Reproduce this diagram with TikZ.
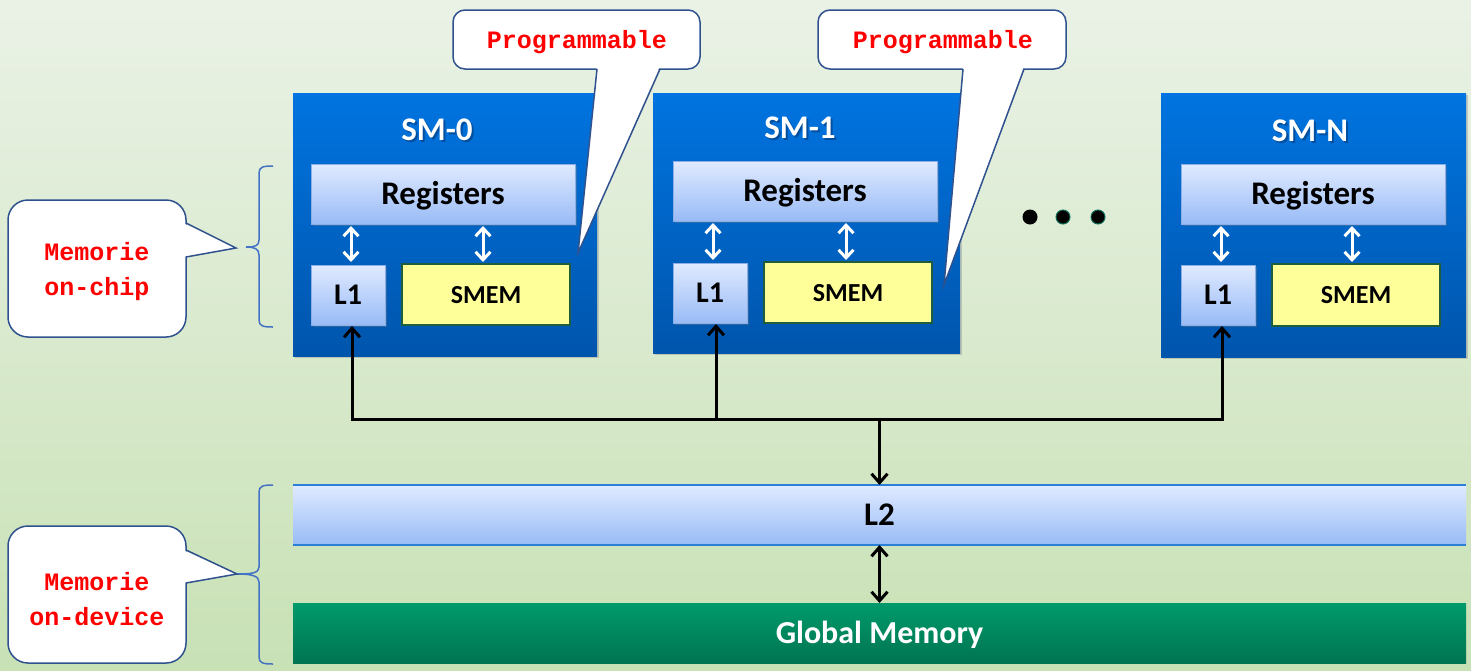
\documentclass[tikz,border=0pt]{standalone}
\usepackage{fontspec}
\setmainfont{Carlito}
\newfontfamily\calloutfont{Liberation Mono}
\usetikzlibrary{arrows.meta,shadows,calc}

\definecolor{bgtop}{HTML}{EAF2E6}
\definecolor{bgbot}{HTML}{C8E1B5}
\definecolor{smtop}{HTML}{0074E0}
\definecolor{smbot}{HTML}{0055AC}
\definecolor{smshade}{HTML}{003A7A}
\definecolor{regtop}{HTML}{E0EAFF}
\definecolor{regbot}{HTML}{98BBF6}
\definecolor{regline}{HTML}{8CAEE6}
\definecolor{smemfill}{HTML}{FFFF99}
\definecolor{smemline}{HTML}{1E5E3C}
\definecolor{gmtop}{HTML}{009A6B}
\definecolor{gmbot}{HTML}{007450}
\definecolor{callline}{HTML}{2F528F}
\definecolor{braceline}{HTML}{4472C4}
\definecolor{l2line}{HTML}{2A7FD6}
\definecolor{redtxt}{HTML}{FF0000}
\definecolor{dotline}{HTML}{0E6E5A}

\begin{document}
\begin{tikzpicture}[x=1pt,y=-1pt,
  smbox/.style={draw=none, top color=smtop, bottom color=smbot, inner sep=0pt, outer sep=0pt,
    drop shadow={shadow xshift=2pt,shadow yshift=-2pt,opacity=0.35}},
  smtitle/.style={text=white, font=\fontsize{33}{40}\selectfont\bfseries, inner sep=0pt},
  regbox/.style={draw=regline, line width=0.8pt, top color=regtop, bottom color=regbot, inner sep=0pt, outer sep=0pt,
    font=\fontsize{33}{40}\selectfont\bfseries, text height=21pt, text depth=0pt,
    drop shadow={shadow xshift=2pt,shadow yshift=-2pt,opacity=0.35}},
  l1box/.style={regbox, font=\fontsize{30}{36}\selectfont\bfseries, text height=19pt},
  smembox/.style={draw=smemline, line width=2.5pt, fill=smemfill, inner sep=0pt, outer sep=0pt,
    font=\fontsize{26}{32}\selectfont\bfseries, text height=17pt, text depth=0pt},
  l2box/.style={draw=none, top color=regtop, bottom color=regbot, inner sep=0pt, outer sep=0pt,
    font=\fontsize{33}{40}\selectfont\bfseries, text height=21pt, text depth=0pt},
  gmbox/.style={draw=none, top color=gmtop, bottom color=gmbot, inner sep=0pt, outer sep=0pt,
    text=white, font=\fontsize{32}{38}\selectfont\bfseries, text height=20.5pt, text depth=0pt},
  calloutbox/.style={draw=callline, line width=1.5pt, fill=white, rounded corners=20pt},
  callouttext/.style={text=redtxt, font=\calloutfont\bfseries\fontsize{25}{35}\selectfont, align=center, inner sep=0pt},
  bracepath/.style={draw=braceline, line width=1.5pt},
  blkarrow/.style={draw=black, line width=3pt, -{Straight Barb[length=9pt,width=16pt]}},
  blkdarrow/.style={draw=black, line width=3pt, {Straight Barb[length=9pt,width=16pt]}-{Straight Barb[length=9pt,width=16pt]}},
  blkline/.style={draw=black, line width=3pt},
  whtdarrow/.style={draw=white, line width=3pt, {Straight Barb[length=8pt,width=15pt]}-{Straight Barb[length=8pt,width=15pt]}}
]
% background
\useasboundingbox (0,0) rectangle (1471,670);
\shade[top color=bgtop, bottom color=bgbot] (0,0) rectangle (1471,670);

% SM boxes
\node[smbox, minimum width=304pt, minimum height=263pt] (sm0) at (445,224.5) {};
\node[smbox, minimum width=307pt, minimum height=260pt] (sm1) at (806.5,223) {};
\node[smbox, minimum width=305pt, minimum height=264pt] (smn) at (1313.5,225) {};

% titles (with a soft dark shadow)
\node[smtitle, text=smshade, opacity=0.6] (t0s) at (439,132) {SM-0};
\node[smtitle] (t0) at (437,130) {SM-0};
\node[smtitle, text=smshade, opacity=0.6] (t1s) at (802,130) {SM-1};
\node[smtitle] (t1) at (800,128) {SM-1};
\node[smtitle, text=smshade, opacity=0.6] (tns) at (1312,133) {SM-N};
\node[smtitle] (tn) at (1310,131) {SM-N};

% registers
\node[regbox, minimum width=264pt, minimum height=60pt] (reg0) at (443,194) {Registers};
\node[regbox, minimum width=264pt, minimum height=60pt] (reg1) at (805,191) {Registers};
\node[regbox, minimum width=264pt, minimum height=60pt] (regn) at (1313,194) {Registers};

% L1
\node[l1box, minimum width=74pt, minimum height=60pt] (l10) at (348,295) {L1};
\node[l1box, minimum width=74pt, minimum height=60pt] (l11) at (710,293) {L1};
\node[l1box, minimum width=74pt, minimum height=60pt] (l1n) at (1218,295) {L1};

% SMEM
\node[smembox, minimum width=168pt, minimum height=61pt] (smem0) at (486,294.5) {SMEM};
\node[smembox, minimum width=168pt, minimum height=61pt] (smem1) at (848,292.5) {SMEM};
\node[smembox, minimum width=168pt, minimum height=62pt] (smemn) at (1356,295) {SMEM};

% white double arrows inside SMs
\draw[whtdarrow] ($(reg0.south -| l10.north)+(3,2)$) -- ($(l10.north)+(3,-3)$);
\draw[whtdarrow] ($(reg0.south -| smem0.north)+(-3,2)$) -- ($(smem0.north)+(-3,-2)$);
\draw[whtdarrow] ($(reg1.south -| l11.north)+(3,2)$) -- ($(l11.north)+(3,-3)$);
\draw[whtdarrow] ($(reg1.south -| smem1.north)+(-2,2)$) -- ($(smem1.north)+(-2,-2)$);
\draw[whtdarrow] ($(regn.south -| l1n.north)+(3,2)$) -- ($(l1n.north)+(3,-3)$);
\draw[whtdarrow] ($(regn.south -| smemn.north)+(-4,2)$) -- ($(smemn.north)+(-4,-2)$);

% dots
\fill[black] (1030,217) circle[radius=7.5pt];
\filldraw[fill=black, draw=dotline, line width=1pt] (1063,217) circle[radius=7pt];
\filldraw[fill=black, draw=dotline, line width=1pt] (1098,217) circle[radius=7pt];

% L2 and global memory
\node[l2box, minimum width=1173pt, minimum height=60pt] (l2) at (879.5,515) {L2};
\draw[l2line, line width=1.5pt] (l2.north west) -- (l2.north east);
\draw[l2line, line width=1.5pt] (l2.south west) -- (l2.south east);
\node[gmbox, minimum width=1173pt, minimum height=60pt] (gm) at (879.5,633) {Global Memory};

% bus
\coordinate (busy) at (0,418);
\coordinate (bus0) at ($(l10.south |- busy)+(4,0)$);
\coordinate (bus1) at ($(l11.south |- busy)+(6,0)$);
\coordinate (busn) at ($(l1n.south |- busy)+(4,0)$);
\draw[blkline] ($(bus0)+(0,1.5)$) -- ($(busn)+(0,1.5)$);
\draw[blkarrow] ($(bus0)+(0,3)$) -- ($(l10.south)+(4,1)$);
\draw[blkline] (bus1) -- ($(bus1)+(0,-5)$);
\draw[blkarrow] ($(bus1)+(0,-3)$) -- ($(l11.south)+(6,1)$);
\draw[blkarrow] ($(busn)+(0,3)$) -- ($(l1n.south)+(4,1)$);
\draw[blkarrow] (l2.north |- busy) -- (l2.north);
\draw[blkdarrow] (l2.south) -- (gm.north);

% braces
\draw[bracepath] (273,166) .. controls (263,166) and (259,167) .. (259,173) -- (259,240)
  .. controls (259,246) and (255,247) .. (246,247) .. controls (255,247) and (259,249) .. (259,255)
  -- (259,320) .. controls (259,326) and (263,327) .. (273,327);
\draw[bracepath] (273,485) .. controls (263,485) and (259,486) .. (259,492) -- (259,567)
  .. controls (259,573) and (252,574) .. (237,574) .. controls (252,574) and (259,576) .. (259,582)
  -- (259,657) .. controls (259,663) and (263,664) .. (273,664);

% callouts: Memorie on-chip
\draw[calloutbox] (8,200) rectangle (186,337);
\fill[white] (183,223) -- (236,248) -- (183,257) -- cycle;
\draw[callline, line width=1.5pt, line join=miter] (186,223) -- (236,248) -- (186,257);
\node[callouttext] (c1) at (97,272) {Memorie\\on-chip};

% callouts: Memorie on-device
\draw[calloutbox] (8,526) rectangle (186,663);
\fill[white] (183,550) -- (237,574) -- (183,583) -- cycle;
\draw[callline, line width=1.5pt, line join=miter] (186,550) -- (237,574) -- (186,583);
\node[callouttext] (c2) at (97,599) {Memorie\\on-device};

% callouts: Programmable (SM-0)
\draw[calloutbox, rounded corners=12pt] (453,10) rectangle (700,69);
\fill[white] (597,66) -- (578,253) -- (660,66) -- cycle;
\draw[callline, line width=1.5pt, line join=miter] (597,69) -- (578,253) -- (660,69);
\node[callouttext] (p0) at (577,42) {Programmable};

% callouts: Programmable (SM-1)
\draw[calloutbox, rounded corners=12pt] (818,10) rectangle (1066,69);
\fill[white] (963,66) -- (944,285) -- (1024,66) -- cycle;
\draw[callline, line width=1.5pt, line join=miter] (963,69) -- (944,285) -- (1024,69);
\node[callouttext] (p1) at (943,42) {Programmable};
\end{tikzpicture}
\end{document}
